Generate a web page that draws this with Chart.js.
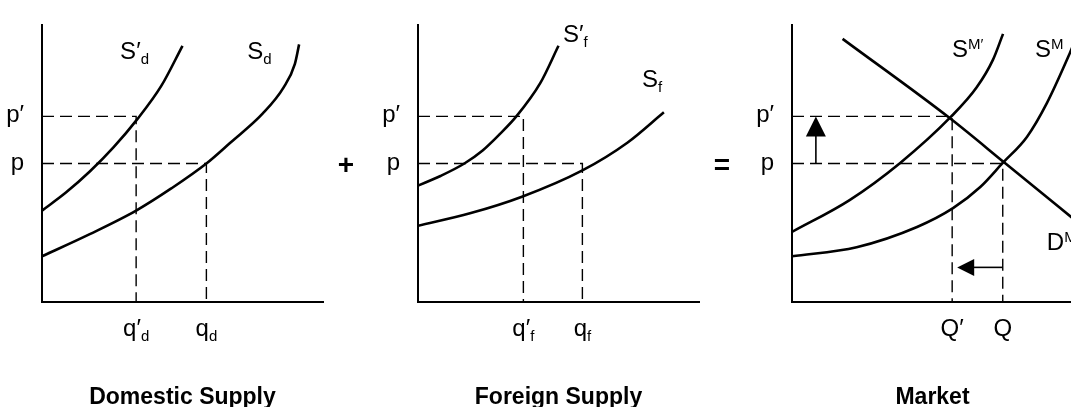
<!DOCTYPE html>
<html>
<head>
<meta charset="utf-8">
<script src="https://cdn.jsdelivr.net/npm/chart.js@4.4.0/dist/chart.umd.min.js"></script>
<style>
  html, body { margin: 0; padding: 0; background: #fff; }
  #wrap { position: relative; width: 1071px; height: 407px; overflow: hidden; }
  canvas { position: absolute; top: 0; }
</style>
</head>
<body>
<div id="wrap">
  <canvas id="dom" width="360" height="407" style="left:0"></canvas>
  <canvas id="for" width="380" height="407" style="left:360px"></canvas>
  <canvas id="mkt" width="380" height="407" style="left:740px"></canvas>
</div>
<script>
// every panel uses quantity 0..10 on x, price 0..10 on y
const P = 5.0, P_PRIME = 6.7;
const QD_PRIME = 3.35, QD = 5.85;
const QF_PRIME = 3.75, QF = 5.85;
const QM_PRIME = 5.7, QM = 7.5;

// supply / demand curves as [quantity, price]
const sdPrime = [[0, 3.3], [0.85, 3.95], [1.7, 4.71], [2.55, 5.59], [3.4, 6.61], [4.25, 7.81], [5.0, 9.25]];
const sd = [[0, 1.65], [1.7, 2.45], [3.35, 3.3], [4.6, 4.1], [5.85, 5.0], [6.7, 5.75], [7.85, 6.8], [8.6, 7.75], [9.0, 8.6], [9.15, 9.3]];

const sfPrime = [[0, 4.2], [0.8, 4.55], [1.65, 5.0], [2.3, 5.47], [2.9, 6.05], [3.5, 6.7], [4.35, 7.9], [5.0, 9.25]];
const sf = [[0, 2.75], [1.85, 3.2], [3.7, 3.8], [5.85, 4.75], [7.45, 5.75], [8.75, 6.85]];

const smPrime = [[0, 2.53], [2.05, 3.68], [3.85, 5.02], [5.65, 6.68], [6.58, 7.76], [7.15, 8.74], [7.51, 9.68]];
const sm = [[0, 1.65], [2.3, 1.98], [4.45, 2.71], [5.73, 3.39], [6.7, 4.15], [7.5, 5.02], [8.36, 5.96], [9.07, 7.18], [9.89, 8.99], [10.1, 9.5]];
const dm = [[1.8, 9.5], [5.6, 6.65], [7.6, 5.0], [10.5, 2.6]];

// where the two shift arrows sit
const ARROW_UP_Q = 0.85;
const ARROW_LEFT_P = 1.25;

const FONT = "'Liberation Sans', Arial, Helvetica, sans-serif";

const pts = arr => arr.map(([x, y]) => ({ x, y }));
const guide = (q, p) => [{ x: 0, y: p }, { x: q, y: p }, { x: q, y: 0 }];

const curve = data => ({
  data: pts(data), showLine: true, borderColor: '#000', borderWidth: 2.6,
  pointRadius: 0, cubicInterpolationMode: 'monotone', fill: false
});
const dashed = data => ({
  data, showLine: true, borderColor: '#000', borderWidth: 1.4,
  borderDash: [12, 6], pointRadius: 0, tension: 0, fill: false
});

const big = t => ({ t, size: 24 });
const sub = t => ({ t, size: 15, dy: 5 });
const sup = t => ({ t, size: 15, dy: -8 });

function drawRich(ctx, parts, x, y, align) {
  let w = 0;
  parts.forEach(p => {
    ctx.font = (p.bold ? 'bold ' : '') + p.size + 'px ' + FONT;
    p.w = ctx.measureText(p.t).width;
    w += p.w;
  });
  let cx = align === 'center' ? x - w / 2 : align === 'right' ? x - w : x;
  parts.forEach(p => {
    ctx.font = (p.bold ? 'bold ' : '') + p.size + 'px ' + FONT;
    ctx.fillText(p.t, cx, y + (p.dy || 0));
    cx += p.w;
  });
}

function labelPlugin(cfg) {
  return {
    id: 'econLabels',
    afterDraw(chart) {
      const { ctx, chartArea: a, scales: { x, y } } = chart;
      ctx.save();
      ctx.fillStyle = '#000';
      ctx.strokeStyle = '#000';
      ctx.textBaseline = 'alphabetic';
      ctx.textAlign = 'left';

      cfg.prices.forEach(l => drawRich(ctx, l.parts, a.left - 18, y.getPixelForValue(l.v) + 6, 'right'));
      cfg.quantities.forEach(l => drawRich(ctx, l.parts, x.getPixelForValue(l.v), a.bottom + 34, 'center'));
      cfg.curves.forEach(l => drawRich(ctx, l.parts, x.getPixelForValue(l.x), y.getPixelForValue(l.y), 'left'));
      drawRich(ctx, [{ t: cfg.title, size: 23, bold: true }], (a.left + a.right) / 2, a.bottom + 102, 'center');
      if (cfg.op) {
        ctx.font = 'bold 28px ' + FONT;
        ctx.textAlign = 'center';
        ctx.textBaseline = 'middle';
        ctx.fillText(cfg.op, a.right + 23, y.getPixelForValue(P) + 3);
      }

      if (cfg.arrows) {
        ctx.lineWidth = 1.6;
        // price rises: p -> p'
        const ax = x.getPixelForValue(ARROW_UP_Q);
        const yTip = y.getPixelForValue(P_PRIME), yTail = y.getPixelForValue(P);
        ctx.beginPath(); ctx.moveTo(ax, yTail); ctx.lineTo(ax, yTip + 18); ctx.stroke();
        ctx.beginPath(); ctx.moveTo(ax, yTip); ctx.lineTo(ax - 10, yTip + 20); ctx.lineTo(ax + 10, yTip + 20); ctx.closePath(); ctx.fill();
        // quantity falls: Q -> Q'
        const ay = y.getPixelForValue(ARROW_LEFT_P);
        const xTip = x.getPixelForValue(QM_PRIME) + 5, xTail = x.getPixelForValue(QM);
        ctx.beginPath(); ctx.moveTo(xTail, ay); ctx.lineTo(xTip + 15, ay); ctx.stroke();
        ctx.beginPath(); ctx.moveTo(xTip, ay); ctx.lineTo(xTip + 17, ay - 8.5); ctx.lineTo(xTip + 17, ay + 8.5); ctx.closePath(); ctx.fill();
      }
      ctx.restore();
    }
  };
}

function makePanel(id, pad, datasets, cfg) {
  const axis = (hor) => ({
    type: 'linear', min: 0, max: 10,
    grid: { display: false, drawTicks: false },
    ticks: { display: false },
    border: { display: true, color: '#000', width: 2 },
    afterFit: s => { if (hor) s.height = 0; else s.width = 0; }
  });
  return new Chart(document.getElementById(id), {
    type: 'scatter',
    data: { datasets },
    options: {
      responsive: false,
      animation: false,
      layout: { padding: pad },
      plugins: { legend: { display: false }, tooltip: { enabled: false } },
      scales: { x: axis(true), y: axis(false) }
    },
    plugins: [labelPlugin(cfg)]
  });
}

makePanel('dom', { left: 42, top: 25, right: 37, bottom: 105 },
  [curve(sdPrime), curve(sd), dashed(guide(QD_PRIME, P_PRIME)), dashed(guide(QD, P))],
  {
    prices: [{ parts: [big('p′')], v: P_PRIME }, { parts: [big('p')], v: P }],
    quantities: [{ parts: [big('q′'), sub('d')], v: QD_PRIME }, { parts: [big('q'), sub('d')], v: QD }],
    curves: [{ parts: [big('S′'), sub('d')], x: 2.78, y: 8.78 }, { parts: [big('S'), sub('d')], x: 7.3, y: 8.78 }],
    title: 'Domestic Supply',
    op: '+'
  });

makePanel('for', { left: 58, top: 25, right: 41, bottom: 105 },
  [curve(sfPrime), curve(sf), dashed(guide(QF_PRIME, P_PRIME)), dashed(guide(QF, P))],
  {
    prices: [{ parts: [big('p′')], v: P_PRIME }, { parts: [big('p')], v: P }],
    quantities: [{ parts: [big('q′'), sub('f')], v: QF_PRIME }, { parts: [big('q'), sub('f')], v: QF }],
    curves: [{ parts: [big('S′'), sub('f')], x: 5.16, y: 9.39 }, { parts: [big('S'), sub('f')], x: 7.97, y: 7.76 }],
    title: 'Foreign Supply',
    op: '='
  });

makePanel('mkt', { left: 52, top: 25, right: 47, bottom: 105 },
  [curve(dm), curve(smPrime), curve(sm), dashed(guide(QM_PRIME, P_PRIME)), dashed(guide(QM, P))],
  {
    prices: [{ parts: [big('p′')], v: P_PRIME }, { parts: [big('p')], v: P }],
    quantities: [{ parts: [big('Q′')], v: QM_PRIME }, { parts: [big('Q')], v: QM }],
    curves: [
      { parts: [big('S'), sup('M′')], x: 5.69, y: 8.84 },
      { parts: [big('S'), sup('M')], x: 8.65, y: 8.84 },
      { parts: [big('D'), sup('M')], x: 9.07, y: 1.88 }
    ],
    title: 'Market',
    arrows: true
  });
</script>
</body>
</html>
